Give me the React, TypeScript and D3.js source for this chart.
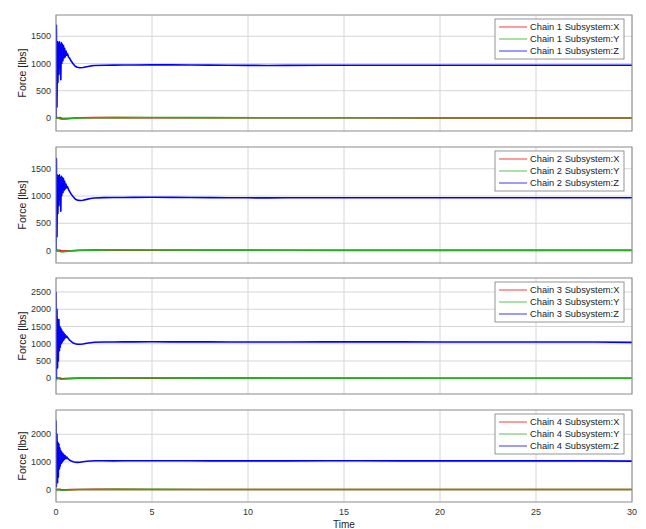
import React from 'react';
import * as d3 from 'd3';

// time samples for the Z force (dense during the start-up transient)
const timeZ = [0, 0.02, 0.05, 0.08, 0.1, 0.12, 0.15, 0.18, 0.2, 0.22, 0.25, 0.28, 0.3, 0.33, 0.36, 0.39, 0.42, 0.45, 0.48, 0.52, 0.56, 0.6, 0.65, 0.7, 0.8, 0.9, 1.0, 1.1, 1.25, 1.4, 1.6, 1.8, 2.0, 2.5, 3, 3.5, 4, 5, 6, 7, 8, 9, 10, 11, 12, 14, 16, 18, 20, 22, 24, 26, 28, 30];

const chain1Z = [0, 1700, 200, 1400, 650, 1380, 800, 1400, 950, 1350, 700, 1380, 1000, 1350, 1050, 1330, 1100, 1280, 1120, 1230, 1150, 1180, 1120, 1100, 1040, 990, 950, 930, 920, 925, 940, 955, 962, 968, 970, 972, 973, 975, 974, 972, 970, 968, 965, 964, 965, 967, 968, 968, 967, 967, 966, 966, 966, 966];
const chain2Z = [0, 1690, 250, 1380, 680, 1370, 820, 1390, 940, 1340, 720, 1360, 1010, 1340, 1060, 1320, 1100, 1270, 1130, 1220, 1150, 1170, 1120, 1090, 1030, 985, 945, 925, 918, 922, 938, 955, 963, 970, 972, 974, 975, 976, 975, 973, 971, 969, 967, 966, 967, 968, 969, 969, 968, 968, 968, 967, 967, 967];
const chain3Z = [2500, 0, 2000, 300, 1700, 500, 1700, 800, 1500, 900, 1450, 1000, 1400, 1050, 1350, 1100, 1300, 1150, 1260, 1180, 1220, 1180, 1150, 1110, 1060, 1020, 1000, 990, 985, 995, 1015, 1030, 1045, 1050, 1052, 1054, 1055, 1057, 1056, 1055, 1054, 1053, 1052, 1052, 1053, 1054, 1054, 1054, 1053, 1053, 1053, 1052, 1052, 1040];
const chain4Z = [2500, 100, 2000, 250, 1700, 450, 1650, 750, 1500, 850, 1400, 950, 1350, 1000, 1300, 1050, 1250, 1100, 1220, 1120, 1180, 1130, 1100, 1070, 1030, 1005, 990, 985, 990, 1005, 1025, 1035, 1045, 1042, 1040, 1041, 1042, 1043, 1042, 1041, 1040, 1040, 1040, 1039, 1040, 1041, 1041, 1040, 1040, 1040, 1039, 1039, 1039, 1030];

// time samples for the X and Y forces
const timeXY = [0, 0.05, 0.1, 0.2, 0.3, 0.5, 0.8, 1.2, 2, 3, 5, 8, 12, 16, 20, 25, 30];

const chain1X = [0, 10, -5, 8, -10, -12, -5, 3, 6, 5, 4, 3, 2, 2, 1, 1, 1];
const chain1Y = [0, -10, 5, -15, -22, -20, -10, -2, 4, 6, 7, 5, 4, 3, 3, 3, 3];
const chain2X = [0, 12, -8, 6, -12, -10, -4, 4, 8, 7, 5, 4, 3, 2, 2, 2, 2];
const chain2Y = [0, -12, 8, -18, -25, -20, -8, 0, 6, 8, 9, 7, 5, 4, 4, 4, 4];
const chain3X = [0, 15, -5, 10, -12, -8, -3, 5, 8, 7, 5, 4, 3, 2, 2, 2, 2];
const chain3Y = [-60, -15, 10, -20, -28, -20, -8, 0, 6, 8, 8, 6, 4, 4, 3, 3, 3];
const chain4X = [0, 12, -8, 8, -12, -10, -3, 4, 7, 6, 4, 3, 2, 2, 1, 1, 1];
const chain4Y = [-50, -15, 8, -18, -24, -18, -8, 0, 5, 7, 7, 5, 4, 3, 3, 3, 3];

const chainNames = ['Chain 1', 'Chain 2', 'Chain 3', 'Chain 4'];
const componentNames = ['X', 'Y', 'Z'];
const xTicks = [0, 5, 10, 15, 20, 25, 30];
const yTicksPerChain = [
  [0, 500, 1000, 1500],
  [0, 500, 1000, 1500],
  [0, 500, 1000, 1500, 2000, 2500],
  [0, 1000, 2000],
];
const yLimits: [number, number][] = [[-240, 1890], [-230, 1900], [-455, 2905], [-450, 2880]];

const seriesX = [chain1X, chain2X, chain3X, chain4X];
const seriesY = [chain1Y, chain2Y, chain3Y, chain4Y];
const seriesZ = [chain1Z, chain2Z, chain3Z, chain4Z];

const W = 646;
const H = 529;
const left = 56;
const right = 632;
const panelTops = [15, 147, 278, 410];
const panelBottoms = [131, 263, 394, 502];
const colors = ['#ff0000', '#22b022', '#0000ff'];
const font = '"Liberation Sans", Arial, sans-serif';

const x = d3.scaleLinear().domain([0, 30]).range([left, right]);

function Panel({ idx }: { idx: number }) {
  const top = panelTops[idx];
  const bottom = panelBottoms[idx];
  const y = d3.scaleLinear().domain(yLimits[idx]).range([bottom, top]);
  const line = d3.line<[number, number]>().x(d => x(d[0])).y(d => y(d[1]));
  const zip = (t: number[], v: number[]) => t.map((tt, i) => [tt, v[i]] as [number, number]);
  const paths = [
    zip(timeXY, seriesX[idx]),
    zip(timeXY, seriesY[idx]),
    zip(timeZ, seriesZ[idx]),
  ];
  const isLast = idx === panelTops.length - 1;
  const lgX = 495, lgW = 129, lgY = top + 4, lgH = 40;

  return (
    <g>
      <rect x={left} y={top} width={right - left} height={bottom - top} fill="#fff" />
      {/* grid */}
      {xTicks.map(t => (
        <line key={'gx' + t} x1={x(t)} x2={x(t)} y1={top} y2={bottom} stroke="#d6d6d6" strokeWidth={1} />
      ))}
      {yTicksPerChain[idx].map(t => (
        <line key={'gy' + t} x1={left} x2={right} y1={y(t)} y2={y(t)} stroke="#d6d6d6" strokeWidth={1} />
      ))}
      <clipPath id={'clip' + idx}>
        <rect x={left} y={top} width={right - left} height={bottom - top} />
      </clipPath>
      <g clipPath={`url(#clip${idx})`}>
        {paths.map((p, i) => (
          <path key={i} d={line(p) || ''} fill="none" stroke={colors[i]} strokeWidth={1.6} strokeLinejoin="round" />
        ))}
      </g>
      <rect x={left} y={top} width={right - left} height={bottom - top} fill="none" stroke="#8a8a8a" strokeWidth={1} />
      {/* y tick labels */}
      {yTicksPerChain[idx].map(t => (
        <text key={'ty' + t} x={left - 5} y={y(t)} dy="0.35em" textAnchor="end" fontSize={9} fill="#333" fontFamily={font}>
          {t}
        </text>
      ))}
      <text
        transform={`translate(22,${(top + bottom) / 2}) rotate(-90)`}
        textAnchor="middle"
        dy="0.35em"
        fontSize={10.5}
        fill="#222"
        fontFamily={font}
      >
        Force [lbs]
      </text>
      {isLast &&
        xTicks.map(t => (
          <text key={'tx' + t} x={x(t)} y={bottom + 10} dy="0.35em" textAnchor="middle" fontSize={9} fill="#333" fontFamily={font}>
            {t}
          </text>
        ))}
      {/* legend */}
      <rect x={lgX} y={lgY} width={lgW} height={lgH} fill="#fff" stroke="#7a7a7a" strokeWidth={0.8} />
      {componentNames.map((c, i) => {
        const ly = lgY + 8 + i * 12;
        return (
          <g key={c}>
            <line x1={lgX + 4} x2={lgX + 32} y1={ly} y2={ly} stroke={colors[i]} strokeWidth={1.2} strokeOpacity={0.65} />
            <text x={lgX + 35} y={ly} dy="0.35em" fontSize={9.3} fill="#222" fontFamily={font}>
              {`${chainNames[idx]} Subsystem:${c}`}
            </text>
          </g>
        );
      })}
    </g>
  );
}

export default function App() {
  return (
    <svg width={W} height={H} style={{ position: 'absolute', left: 0, top: 0, background: '#fff' }}>
      <rect width={W} height={H} fill="#fff" />
      {chainNames.map((_, i) => (
        <Panel key={i} idx={i} />
      ))}
      <text x={(left + right) / 2} y={524} textAnchor="middle" dy="0.35em" fontSize={10} fill="#222" fontFamily={font}>
        Time
      </text>
    </svg>
  );
}
